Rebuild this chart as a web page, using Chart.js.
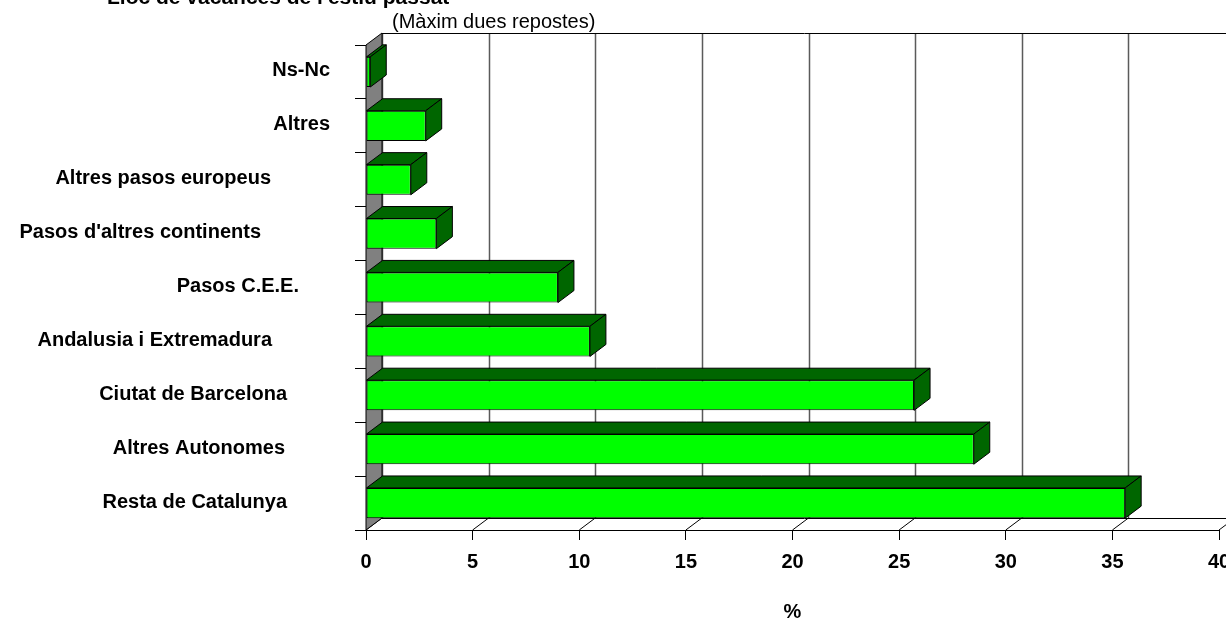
<!DOCTYPE html>
<html>
<head>
<meta charset="utf-8">
<title>Lloc de vacances de l'estiu passat</title>
<script src="https://cdn.jsdelivr.net/npm/chart.js@4.4.1/dist/chart.umd.min.js"></script>
<style>
  html, body { margin: 0; padding: 0; background: #fff; }
</style>
</head>
<body>
<canvas id="vacChart" width="1226" height="620"></canvas>
<script>
// data (%)
const places = ["Ns-Nc", "Altres", "Altres pasos europeus", "Pasos d'altres continents", "Pasos C.E.E.",
                "Andalusia i Extremadura", "Ciutat de Barcelona", "Altres Autonomes", "Resta de Catalunya"];
const percents = [0.2, 2.8, 2.1, 3.3, 9.0, 10.5, 25.7, 28.5, 35.6];
const xTicks = [0, 5, 10, 15, 20, 25, 30, 35, 40];

const chartTitle = "Lloc de vacances de l'estiu passat";
const chartSubtitle = "(Màxim dues repostes)";

Chart.defaults.font.family = 'Arial, "Liberation Sans", sans-serif';
Chart.defaults.color = '#000';

// fake 3D: depth offset of the back wall
const DX = 16, DY = 12;
const FRONT = '#00ff00', DARK = '#006600', WALL = '#808080';
// right edge of each category label (the original has them ragged)
const labelRight = [330, 330, 271, 261, 299, 272, 287, 285, 287];

function poly(ctx, pts, fill) {
  ctx.beginPath();
  ctx.moveTo(pts[0][0], pts[0][1]);
  for (let i = 1; i < pts.length; i++) ctx.lineTo(pts[i][0], pts[i][1]);
  ctx.closePath();
  if (fill) { ctx.fillStyle = fill; ctx.fill(); }
  ctx.stroke();
}
function line(ctx, x1, y1, x2, y2) {
  ctx.beginPath();
  ctx.moveTo(x1, y1);
  ctx.lineTo(x2, y2);
  ctx.stroke();
}

const depthPlugin = {
  id: 'depth',
  beforeDatasetsDraw(chart) {
    const ctx = chart.ctx, a = chart.chartArea, x = chart.scales.x;
    ctx.save();
    // back wall grid
    ctx.lineWidth = 1.5;
    ctx.strokeStyle = '#5a5a5a';
    x.ticks.forEach(t => {
      const px = Math.round(x.getPixelForValue(t.value)) + DX + 0.5;
      line(ctx, px, a.top - DY, px, a.bottom - DY);
    });
    ctx.lineWidth = 1;
    ctx.strokeStyle = '#000';
    line(ctx, a.left + DX, a.top - DY + 0.5, a.right + DX, a.top - DY + 0.5);
    // floor
    line(ctx, a.left + DX, a.bottom - DY + 0.5, a.right + DX, a.bottom - DY + 0.5);
    x.ticks.forEach(t => {
      const px = x.getPixelForValue(t.value);
      line(ctx, px, a.bottom, px + DX, a.bottom - DY);
    });
    // left wall
    poly(ctx, [[a.left, a.top], [a.left + DX, a.top - DY], [a.left + DX, a.bottom - DY], [a.left, a.bottom]], WALL);
    ctx.restore();
  },
  afterDatasetsDraw(chart) {
    const ctx = chart.ctx;
    ctx.save();
    ctx.lineWidth = 1;
    ctx.strokeStyle = '#000';
    chart.getDatasetMeta(0).data.forEach(bar => {
      const p = bar.getProps(['x', 'y', 'base', 'height'], true);
      const top = p.y - p.height / 2, bot = p.y + p.height / 2;
      poly(ctx, [[p.base, top], [p.base + DX, top - DY], [p.x + DX, top - DY], [p.x, top]], DARK);
      poly(ctx, [[p.x, top], [p.x + DX, top - DY], [p.x + DX, bot - DY], [p.x, bot]], DARK);
    });
    ctx.restore();
  },
  afterDraw(chart) {
    const ctx = chart.ctx, y = chart.scales.y;
    ctx.save();
    ctx.fillStyle = '#000';
    ctx.textBaseline = 'alphabetic';
    ctx.textAlign = 'left';
    ctx.font = 'bold 21px Arial, "Liberation Sans", sans-serif';
    ctx.fillText(chartTitle, 107, 4);
    ctx.font = '20px Arial, "Liberation Sans", sans-serif';
    ctx.textBaseline = 'middle';
    ctx.fillText(chartSubtitle, 392, 22);
    // category labels
    ctx.font = 'bold 20px Arial, "Liberation Sans", sans-serif';
    ctx.textAlign = 'right';
    places.forEach((name, i) => {
      ctx.fillText(name, labelRight[i], y.getPixelForValue(i) - 1);
    });
    ctx.restore();
  }
};

new Chart(document.getElementById('vacChart'), {
  type: 'bar',
  data: {
    labels: places,
    datasets: [{
      data: percents,
      backgroundColor: FRONT,
      borderColor: '#000',
      borderWidth: 1,
      borderSkipped: false,
      barPercentage: 1,
      categoryPercentage: 0.56
    }]
  },
  options: {
    indexAxis: 'y',
    responsive: false,
    animation: false,
    layout: { padding: { top: 45, right: 7, bottom: 0, left: 0 } },
    plugins: {
      legend: { display: false },
      tooltip: { enabled: false }
    },
    scales: {
      x: {
        min: 0,
        max: 40,
        afterBuildTicks: s => { s.ticks = xTicks.map(v => ({ value: v })); },
        afterFit: s => { s.height = 90; s.paddingLeft = 0; s.paddingRight = 0; },
        border: { display: true, color: '#000', width: 1 },
        grid: { display: true, drawOnChartArea: false, drawTicks: true, tickLength: 10, color: '#000' },
        ticks: { padding: 10, maxRotation: 0, autoSkip: false, font: { size: 20, weight: 'bold' }, color: '#000' },
        title: { display: true, text: '%', font: { size: 20, weight: 'bold', lineHeight: 0.8 }, color: '#000', padding: 0 }
      },
      y: {
        afterFit: s => { s.width = 366; },
        border: { display: true, color: '#000', width: 1 },
        grid: { display: true, offset: true, drawOnChartArea: false, drawTicks: true, tickLength: 11, color: '#000' },
        ticks: { display: false }
      }
    }
  },
  plugins: [depthPlugin]
});
</script>
</body>
</html>
